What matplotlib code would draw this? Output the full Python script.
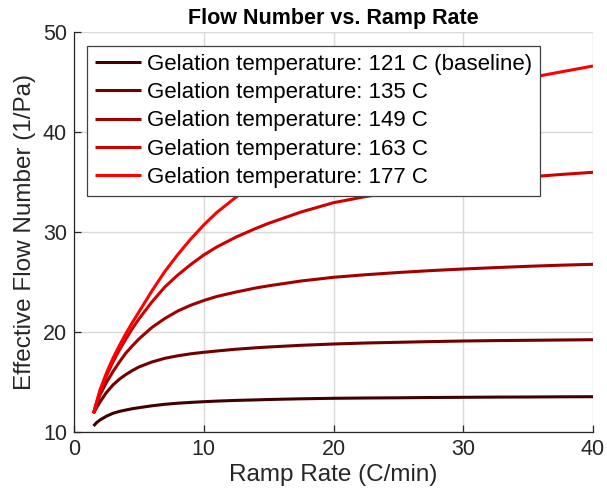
import matplotlib
matplotlib.use("Agg")
import matplotlib.pyplot as plt

plt.rcParams['font.family'] = ['Liberation Sans', 'DejaVu Sans']

ramp_rate = [1.5, 1.75, 2, 2.5, 3, 3.5, 4, 4.5, 5, 6, 7, 8, 9, 10, 11, 12.5, 14, 15,
             17.5, 20, 22.5, 25, 27.5, 30, 32.5, 35, 37.5, 40]

flow_121 = [10.6, 10.95, 11.2, 11.58, 11.87, 12.06, 12.2, 12.33, 12.43, 12.62, 12.77, 12.88, 12.96, 13.03,
            13.09, 13.16, 13.21, 13.25, 13.32, 13.37, 13.4, 13.42, 13.45, 13.47, 13.49, 13.5, 13.52, 13.53]
flow_135 = [11.87, 12.45, 13.0, 13.95, 14.7, 15.28, 15.75, 16.15, 16.5, 17.0, 17.37, 17.62, 17.82, 17.97,
            18.1, 18.28, 18.42, 18.5, 18.67, 18.8, 18.9, 18.97, 19.04, 19.1, 19.14, 19.17, 19.2, 19.23]
flow_149 = [11.87, 12.8, 13.7, 14.95, 16.03, 17.0, 17.9, 18.62, 19.3, 20.45, 21.35, 22.1, 22.68, 23.15,
            23.55, 24.0, 24.4, 24.62, 25.1, 25.47, 25.73, 25.95, 26.14, 26.3, 26.44, 26.57, 26.68, 26.77]
flow_163 = [11.87, 12.95, 14.0, 15.6, 17.0, 18.2, 19.3, 20.35, 21.3, 23.0, 24.5, 25.7, 26.75, 27.7,
            28.5, 29.5, 30.35, 30.87, 32.0, 32.93, 33.55, 34.05, 34.5, 34.9, 35.25, 35.5, 35.75, 35.97]
flow_177 = [11.87, 13.05, 14.2, 15.9, 17.37, 18.65, 19.85, 20.95, 22.0, 24.1, 26.05, 27.75, 29.3, 30.7,
            31.95, 33.5, 34.85, 35.7, 37.6, 39.3, 40.8, 42.0, 43.1, 44.0, 44.8, 45.4, 46.0, 46.6]

series = [flow_121, flow_135, flow_149, flow_163, flow_177]
labels = ["Gelation temperature: 121 C (baseline)",
          "Gelation temperature: 135 C",
          "Gelation temperature: 149 C",
          "Gelation temperature: 163 C",
          "Gelation temperature: 177 C"]
colors = ["#400000", "#700000", "#a00000", "#d00000", "#ff0000"]

fig = plt.figure(figsize=(6.07, 4.99), dpi=100)
ax = fig.add_axes([74/607, 67/499, 519/607, 400/499])

for y, lab, c in zip(series, labels, colors):
    ax.plot(ramp_rate, y, color=c, lw=2.2, label=lab, solid_capstyle='butt',
            solid_joinstyle='round')

ax.set_xlim(0, 40)
ax.set_ylim(10, 50)
ax.set_xticks([0, 10, 20, 30, 40])
ax.set_yticks([10, 20, 30, 40, 50])
ax.grid(True, color='#d9d9d9', lw=1)
ax.set_axisbelow(True)
for s in ['top', 'right']:
    ax.spines[s].set_visible(False)
for s in ['left', 'bottom']:
    ax.spines[s].set_color('#262626')
    ax.spines[s].set_linewidth(0.9)
ax.tick_params(direction='in', length=5, width=0.9, labelsize=15.5, colors='#262626', pad=5)

ax.set_xlabel("Ramp Rate (C/min)", fontsize=17.5, color='#262626', labelpad=3)
ax.set_ylabel("Effective Flow Number (1/Pa)", fontsize=17.5, color='#262626', labelpad=5)
ax.set_title("Flow Number vs. Ramp Rate", fontsize=15.5, fontweight='bold', pad=6)

leg = ax.legend(loc='upper left', bbox_to_anchor=(13/519, 386/400), borderaxespad=0,
                fontsize=16, fancybox=False, framealpha=1, edgecolor='#404040',
                handlelength=2.1, handletextpad=0.25, labelspacing=0.33,
                borderpad=0.35)
leg.get_frame().set_linewidth(0.9)

fig.savefig("out.png", dpi=100)
